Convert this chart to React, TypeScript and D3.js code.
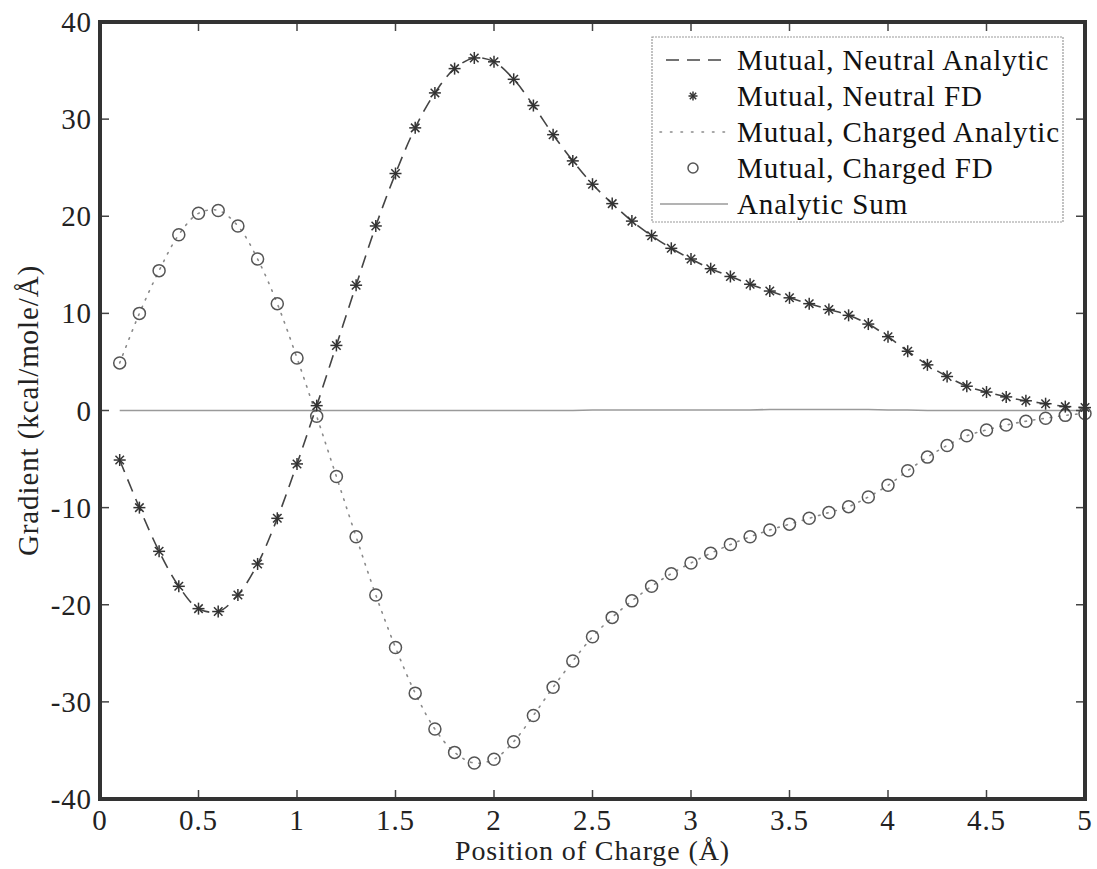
import React from "react";
import * as d3 from "d3";

const positions = [0.1,0.2,0.3,0.4,0.5,0.6,0.7,0.8,0.9,1.0,1.1,1.2,1.3,1.4,1.5,1.6,1.7,1.8,1.9,2.0,2.1,2.2,2.3,2.4,2.5,2.6,2.7,2.8,2.9,3.0,3.1,3.2,3.3,3.4,3.5,3.6,3.7,3.8,3.9,4.0,4.1,4.2,4.3,4.4,4.5,4.6,4.7,4.8,4.9,5.0];

const neutralFD = [-5.1,-10,-14.5,-18.1,-20.4,-20.7,-19,-15.8,-11.1,-5.5,0.5,6.7,12.9,19,24.4,29.1,32.7,35.2,36.3,35.9,34.1,31.4,28.4,25.7,23.3,21.3,19.5,18,16.7,15.6,14.6,13.8,13,12.3,11.6,11,10.4,9.8,8.9,7.6,6.1,4.7,3.5,2.5,1.9,1.4,1.0,0.7,0.4,0.3];

const chargedFD = [4.9,10,14.4,18.1,20.3,20.6,19,15.6,11,5.4,-0.6,-6.8,-13,-19,-24.4,-29.1,-32.8,-35.2,-36.3,-35.9,-34.1,-31.4,-28.5,-25.8,-23.3,-21.3,-19.6,-18.1,-16.8,-15.7,-14.7,-13.8,-13,-12.3,-11.7,-11.1,-10.5,-9.9,-8.9,-7.7,-6.2,-4.8,-3.6,-2.6,-2,-1.5,-1.1,-0.8,-0.5,-0.3];

const neutralAnalytic = neutralFD;
const chargedAnalytic = chargedFD;
const analyticSum = [0,0,0,0,0,0,0,0,0,0,0,0,0,0,0,0,0,0,0,0,0,0,0,0,0.05,0.05,0.05,0.05,0.05,0.05,0.05,0.05,0.05,0.1,0.1,0.1,0.1,0.1,0.1,0.05,0.05,0,0,0,0,0,0,0,0,0];

const xTicks = [0,0.5,1,1.5,2,2.5,3,3.5,4,4.5,5];
const yTicks = [-40,-30,-20,-10,0,10,20,30,40];

const legendLabels = [
  "Mutual, Neutral Analytic",
  "Mutual, Neutral FD",
  "Mutual, Charged Analytic",
  "Mutual, Charged FD",
  "Analytic Sum",
];

const W = 1097, H = 869;
const L = 100, R = 1085, T = 22, B = 799;
const FONT = "\"Liberation Serif\", \"DejaVu Serif\", \"Times New Roman\", serif";
const FS = 29;

function Star({ cx, cy, r, color }: { cx: number; cy: number; r: number; color: string }) {
  const arms = [0, 45, 90, 135].map((a) => {
    const rad = (a * Math.PI) / 180;
    const dx = Math.cos(rad) * r, dy = Math.sin(rad) * r;
    return <line key={a} x1={cx - dx} y1={cy - dy} x2={cx + dx} y2={cy + dy} stroke={color} strokeWidth={1.5} />;
  });
  return <g>{arms}</g>;
}

export default function App() {
  const x = d3.scaleLinear().domain([0, 5]).range([L, R]);
  const y = d3.scaleLinear().domain([-40, 40]).range([B, T]);
  const mk = (vals: number[]) =>
    d3.line<number>().x((_, i) => x(positions[i])).y((d) => y(d)).curve(d3.curveCatmullRom)(vals) || "";
  const mkLin = (vals: number[]) =>
    d3.line<number>().x((_, i) => x(positions[i])).y((d) => y(d))(vals) || "";

  const lx1 = 660, lx2 = 728, lmx = 693, ltx = 737;
  const rowY = (i: number) => 60 + i * 36;
  const textStyle = { fontFamily: FONT, letterSpacing: "0.9px" };

  return (
    <svg width={W} height={H} style={{ position: "absolute", left: 0, top: 0, background: "#fff", fontFamily: FONT }}>
      <rect x={0} y={0} width={W} height={H} fill="#fff" />
      <path d={mkLin(analyticSum)} fill="none" stroke="#9a9a9a" strokeWidth={1.6} />
      <path d={mk(chargedAnalytic)} fill="none" stroke="#8a8a8a" strokeWidth={1.6} strokeDasharray="1.5 7" strokeLinecap="round" />
      <path d={mk(neutralAnalytic)} fill="none" stroke="#444" strokeWidth={1.6} strokeDasharray="13 8" />
      {chargedFD.map((v, i) => (
        <circle key={"c" + i} cx={x(positions[i])} cy={y(v)} r={6} fill="none" stroke="#555" strokeWidth={1.5} />
      ))}
      {neutralFD.map((v, i) => (
        <Star key={"s" + i} cx={x(positions[i])} cy={y(v)} r={6} color="#333" />
      ))}
      {xTicks.map((t) => (
        <g key={"xt" + t}>
          <line x1={x(t)} x2={x(t)} y1={B} y2={B - 9} stroke="#444" strokeWidth={1.5} />
          <line x1={x(t)} x2={x(t)} y1={T} y2={T + 9} stroke="#444" strokeWidth={1.5} />
          <text x={x(t)} y={830} textAnchor="middle" fontSize={FS} fill="#222" style={textStyle}>{String(t)}</text>
        </g>
      ))}
      {yTicks.map((t) => (
        <g key={"yt" + t}>
          <line x1={L} x2={L + 9} y1={y(t)} y2={y(t)} stroke="#444" strokeWidth={1.5} />
          <line x1={R} x2={R - 9} y1={y(t)} y2={y(t)} stroke="#444" strokeWidth={1.5} />
          <text x={92} y={y(t) + 10} textAnchor="end" fontSize={FS} fill="#222" style={textStyle}>{String(t)}</text>
        </g>
      ))}
      <rect x={L} y={T} width={R - L} height={B - T} fill="none" stroke="#333" strokeWidth={4} />
      <text x={(L + R) / 2} y={860} textAnchor="middle" fontSize={28} fill="#222" style={textStyle}>Position of Charge (Å)</text>
      <text transform={`translate(38,${(T + B) / 2}) rotate(-90)`} textAnchor="middle" fontSize={FS} fill="#222" style={textStyle}>Gradient (kcal/mole/Å)</text>
      <rect x={652} y={37} width={411} height={185} fill="#fff" stroke="#999" strokeWidth={1.2} strokeDasharray="2 1" />
      <line x1={lx1} x2={lx2} y1={rowY(0)} y2={rowY(0)} stroke="#444" strokeWidth={1.6} strokeDasharray="13 8" strokeDashoffset={-6} />
      <Star cx={lmx} cy={rowY(1)} r={4.5} color="#333" />
      <line x1={lx1} x2={lx2} y1={rowY(2)} y2={rowY(2)} stroke="#8a8a8a" strokeWidth={1.6} strokeDasharray="1.5 9" strokeLinecap="round" />
      <circle cx={lmx} cy={rowY(3)} r={5} fill="none" stroke="#555" strokeWidth={1.5} />
      <line x1={lx1} x2={lx2} y1={rowY(4)} y2={rowY(4)} stroke="#9a9a9a" strokeWidth={1.6} />
      {legendLabels.map((s, i) => (
        <text key={s} x={ltx} y={rowY(i) + 10} fontSize={FS} fill="#111" style={textStyle}>{s}</text>
      ))}
    </svg>
  );
}
